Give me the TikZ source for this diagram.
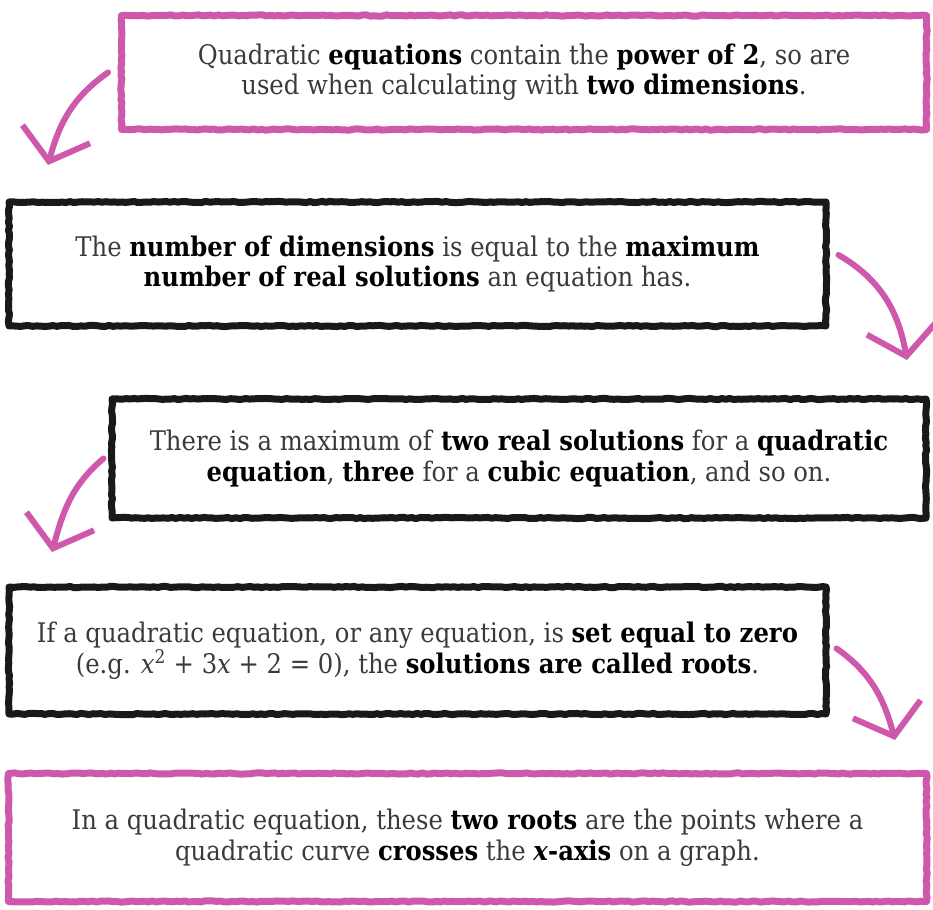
\documentclass[tikz,border=0pt]{standalone}
\usepackage{fontspec}
\setmainfont{DejaVu Serif Condensed}
\usepackage{tikz}
\usetikzlibrary{
  arrows.meta,%
  % rough box edges
  decorations.pathmorphing,%
  positioning
}
\definecolor{notepink}{RGB}{206,88,172}
\definecolor{notegrey}{RGB}{58,58,58}
\tikzset{>={Straight Barb[length=28pt,width=70pt]}}
\tikzset{
  notebox/.style={draw, line width=7pt, line join=round, align=center,
    text=notegrey, inner sep=0pt,
    font=\fontsize{27}{30.5}\selectfont,
    decorate, decoration={random steps, segment length=4pt, amplitude=0.6pt}},
  pinkbox/.style={notebox, draw=notepink},
  blackbox/.style={notebox, draw=black!90},
  bendarrow/.style={->, draw=notepink, line width=6pt, line cap=round}
}
\newcommand{\hl}[1]{\textbf{\color{black}#1}}
\pgfmathsetseed{7}

\begin{document}
\begin{tikzpicture}[x=1pt, y=1pt]
  \useasboundingbox (0,0) rectangle (933,909);
  \node[pinkbox, minimum width=805pt, minimum height=114pt] (q1) at (524,836.5)
    {Quadratic \hl{equations} contain the \hl{power of 2}, so are\\
     used when calculating with \hl{two dimensions}.};
  \node[blackbox, minimum width=817pt, minimum height=124pt] (q2) at (417.5,645)
    {The \hl{number of dimensions} is equal to the \hl{maximum}\\
     \hl{number of real solutions} an equation has.};
  \node[blackbox, minimum width=814pt, minimum height=119pt] (q3) at (519,450.5)
    {There is a maximum of \hl{two real solutions} for a \hl{quadratic}\\
     \hl{equation}, \hl{three} for a \hl{cubic equation}, and so on.};
  \node[blackbox, minimum width=817pt, minimum height=127pt] (q4) at (417.5,258.5)
    {If a quadratic equation, or any equation, is \hl{set equal to zero}\\
     (e.g. \textit{x}\textsuperscript{2} + 3\textit{x} + 2 = 0), the \hl{solutions are called roots}.};
  \node[pinkbox, minimum width=918pt, minimum height=128pt] (q5) at (467.5,71.5)
    {In a quadratic equation, these \hl{two roots} are the points where a\\
     quadratic curve \hl{crosses} the \hl{\textit{x}-axis} on a graph.};

  % arrow tips
  \coordinate (t1) at (48,744);
  \coordinate (t2) at (907,549);
  \coordinate (t3) at (52,357);
  \coordinate (t4) at (895,169);

  \draw[bendarrow] ([xshift=-10pt]q1.west) to[out=215, in=75] (t1);
  \draw[bendarrow] ([xshift=9pt, yshift=9pt]q2.east) to[out=-30, in=100] (t2);
  \draw[bendarrow] ([xshift=-5pt]q3.west) to[out=220, in=75] (t3);
  \draw[bendarrow] ([xshift=7pt, yshift=2pt]q4.east) to[out=-35, in=105] (t4);
\end{tikzpicture}
\end{document}
